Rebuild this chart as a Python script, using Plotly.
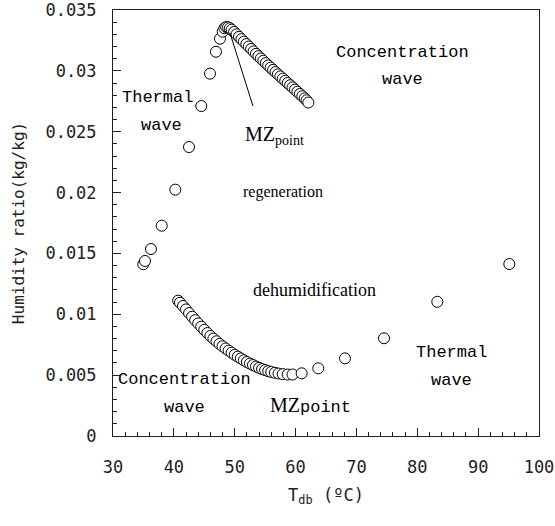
import plotly.graph_objects as go

# ---- data ----
regen_T = [34.98, 35.26, 36.24, 38.00, 40.24, 42.49, 44.51, 45.94, 46.92, 47.58, 48.02,
           48.30, 48.60, 48.90, 49.20, 49.50, 49.90, 50.30, 50.70, 51.10, 51.50, 51.90,
           52.30, 52.70, 53.10, 53.50, 53.90, 54.30, 54.70, 55.10, 55.50, 55.90, 56.30,
           56.70, 57.10, 57.50, 57.90, 58.30, 58.70, 59.10, 59.50, 59.90, 60.30, 60.70,
           61.10, 61.50, 61.80, 62.10]
regen_w = [0.01411, 0.01438, 0.01536, 0.01728, 0.02024, 0.02374, 0.02711, 0.02977, 0.03157,
           0.03264, 0.03322, 0.03350, 0.03360, 0.03358, 0.03350, 0.03338, 0.03320, 0.03300,
           0.03280, 0.03260, 0.03240, 0.03220, 0.03200, 0.03180, 0.03160, 0.03140, 0.03121,
           0.03102, 0.03083, 0.03064, 0.03045, 0.03026, 0.03008, 0.02990, 0.02972, 0.02954,
           0.02936, 0.02918, 0.02900, 0.02882, 0.02864, 0.02846, 0.02828, 0.02810, 0.02792,
           0.02774, 0.02758, 0.02740]

dehum_T = [40.70, 41.00, 41.50, 42.00, 42.50, 43.00, 43.50, 44.00, 44.50, 45.00, 45.50,
           46.00, 46.50, 47.00, 47.50, 48.00, 48.50, 49.00, 49.50, 50.00, 50.50, 51.00,
           51.50, 52.00, 52.50, 53.00, 53.50, 54.00, 54.50, 55.00, 55.50, 56.00, 56.60,
           57.20, 57.90, 58.70, 59.50, 61.00, 63.73, 68.12, 74.53, 83.29, 95.12]
dehum_w = [0.01112, 0.01095, 0.01068, 0.01040, 0.01010, 0.00980, 0.00952, 0.00925, 0.00898,
           0.00872, 0.00846, 0.00822, 0.00800, 0.00778, 0.00757, 0.00737, 0.00719, 0.00701,
           0.00684, 0.00667, 0.00652, 0.00637, 0.00622, 0.00608, 0.00595, 0.00583, 0.00571,
           0.00560, 0.00550, 0.00541, 0.00533, 0.00526, 0.00519, 0.00513, 0.00508, 0.00505,
           0.00505, 0.00515, 0.00556, 0.00638, 0.00803, 0.01103, 0.01413]

x_ticks = [30, 40, 50, 60, 70, 80, 90, 100]
x_tick_text = ["30", "40", "50", "60", "70", "80", "90", "100"]
y_ticks = [0, 0.005, 0.01, 0.015, 0.02, 0.025, 0.03, 0.035]
y_tick_text = ["0", "0.005", "0.01", "0.015", "0.02", "0.025", "0.03", "0.035"]

MONO = "DejaVu Sans Mono"
SERIFMONO = "Liberation Mono"
SERIF = "Liberation Serif"

marker = dict(symbol="circle", size=11, color="white", line=dict(color="black", width=1))

fig = go.Figure()
fig.add_trace(go.Scatter(x=regen_T, y=regen_w, mode="markers", marker=marker,
                         showlegend=False, hoverinfo="skip"))
fig.add_trace(go.Scatter(x=dehum_T, y=dehum_w, mode="markers", marker=marker,
                         showlegend=False, hoverinfo="skip"))

# pointer line to the upper MZ point
fig.add_shape(type="line", x0=49.22, y0=0.03311, x1=53.0, y1=0.02711,
              xref="x", yref="y", line=dict(color="black", width=1))

def txt(x, y, s, family, size, xanchor="center"):
    fig.add_annotation(x=x, y=y, xref="x", yref="y", text=s, showarrow=False,
                       font=dict(family=family, size=size, color="black"),
                       xanchor=xanchor, yanchor="middle")

txt(37.39, 0.02785, "Thermal", SERIFMONO, 17)
txt(37.89, 0.02555, "wave", SERIFMONO, 17)
txt(77.49, 0.03147, "Concentration", SERIFMONO, 17)
txt(77.49, 0.02925, "wave", SERIFMONO, 17)
txt(41.83, 0.00468, "Concentration", SERIFMONO, 17)
txt(41.83, 0.00238, "wave", SERIFMONO, 17)
txt(85.70, 0.00690, "Thermal", SERIFMONO, 17)
txt(85.70, 0.00460, "wave", SERIFMONO, 17)
txt(57.93, 0.02005, "regeneration", SERIF, 16)
txt(63.19, 0.01200, "dehumidification", SERIF, 18)
txt(51.36, 0.02470, "MZ<sub>point</sub>", SERIF, 20, xanchor="left")
txt(55.47, 0.00250,
    'MZ<span style="font-family:Liberation Mono;font-size:17px">point</span>',
    SERIF, 20, xanchor="left")

axis_common = dict(showline=True, linecolor="#222", linewidth=1, mirror=True,
                   ticks="inside", tickcolor="#222", ticklen=8, tickwidth=1,
                   showgrid=False, zeroline=False, ticklabeloverflow="allow",
                   tickfont=dict(family=MONO, size=17, color="#222"))

fig.update_xaxes(range=[30, 100], tickmode="array", tickvals=x_ticks, ticktext=x_tick_text,
                 ticklabelstandoff=16,
                 minor=dict(dtick=2, ticks="inside", ticklen=4, tickcolor="#222", showgrid=False),
                 title=dict(text="T<sub>db</sub> (ºC)", font=dict(family=MONO, size=17, color="#222"),
                            standoff=12),
                 **axis_common)
fig.update_yaxes(range=[0, 0.0350002], tickmode="array", tickvals=y_ticks, ticktext=y_tick_text,
                 ticklabelstandoff=12,
                 minor=dict(dtick=0.001, ticks="inside", ticklen=4, tickcolor="#222", showgrid=False),
                 title=dict(text="Humidity ratio(kg/kg)", font=dict(family=MONO, size=16, color="#222"),
                            standoff=16),
                 **axis_common)

fig.update_layout(width=555, height=526, margin=dict(l=113, r=16, t=10, b=90, autoexpand=False),
                  plot_bgcolor="white", paper_bgcolor="white")

fig.write_html("out.html")
